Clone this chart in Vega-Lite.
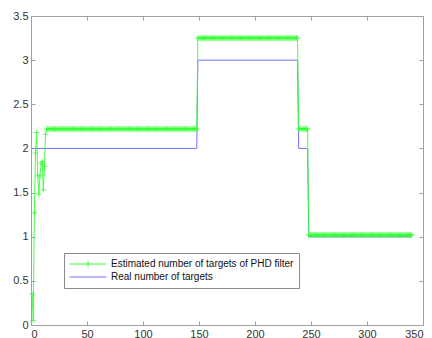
{
"$schema":"https://vega.github.io/schema/vega-lite/v6.json",
"autosize":{"type":"none"},
"padding":{"left":31,"top":16,"right":9,"bottom":13},
"width":392,"height":309,
"background":"white",
"config":{"view":{"stroke":"#a0a0a0","strokeWidth":1},
"axis":{"domain":false,"grid":false,"tickColor":"#a0a0a0","tickSize":-4,"labelFont":"Liberation Sans","labelFontSize":11,"labelColor":"#333333","labelPadding":7,"title":null}},
"datasets":{
"est":[
{"k":1,"n":0.35},{"k":2,"n":0.05},{"k":3,"n":1.27},{"k":4,"n":1.95},{"k":5,"n":2.18},{"k":6,"n":1.69},{"k":7,"n":1.48},{"k":8,"n":1.69},{"k":9,"n":1.83},{"k":10,"n":1.85},
{"k":11,"n":1.53},{"k":12,"n":1.8},{"k":13,"n":2.16},{"k":14,"n":2.22},{"k":15,"n":2.22},{"k":16,"n":2.22},{"k":17,"n":2.22},{"k":18,"n":2.22},{"k":19,"n":2.22},{"k":20,"n":2.22},
{"k":21,"n":2.22},{"k":22,"n":2.22},{"k":23,"n":2.22},{"k":24,"n":2.22},{"k":25,"n":2.22},{"k":26,"n":2.22},{"k":27,"n":2.22},{"k":28,"n":2.22},{"k":29,"n":2.22},{"k":30,"n":2.22},
{"k":31,"n":2.22},{"k":32,"n":2.22},{"k":33,"n":2.22},{"k":34,"n":2.22},{"k":35,"n":2.22},{"k":36,"n":2.22},{"k":37,"n":2.22},{"k":38,"n":2.22},{"k":39,"n":2.22},{"k":40,"n":2.22},
{"k":41,"n":2.22},{"k":42,"n":2.22},{"k":43,"n":2.22},{"k":44,"n":2.22},{"k":45,"n":2.22},{"k":46,"n":2.22},{"k":47,"n":2.22},{"k":48,"n":2.22},{"k":49,"n":2.22},{"k":50,"n":2.22},
{"k":51,"n":2.22},{"k":52,"n":2.22},{"k":53,"n":2.22},{"k":54,"n":2.22},{"k":55,"n":2.22},{"k":56,"n":2.22},{"k":57,"n":2.22},{"k":58,"n":2.22},{"k":59,"n":2.22},{"k":60,"n":2.22},
{"k":61,"n":2.22},{"k":62,"n":2.22},{"k":63,"n":2.22},{"k":64,"n":2.22},{"k":65,"n":2.22},{"k":66,"n":2.22},{"k":67,"n":2.22},{"k":68,"n":2.22},{"k":69,"n":2.22},{"k":70,"n":2.22},
{"k":71,"n":2.22},{"k":72,"n":2.22},{"k":73,"n":2.22},{"k":74,"n":2.22},{"k":75,"n":2.22},{"k":76,"n":2.22},{"k":77,"n":2.22},{"k":78,"n":2.22},{"k":79,"n":2.22},{"k":80,"n":2.22},
{"k":81,"n":2.22},{"k":82,"n":2.22},{"k":83,"n":2.22},{"k":84,"n":2.22},{"k":85,"n":2.22},{"k":86,"n":2.22},{"k":87,"n":2.22},{"k":88,"n":2.22},{"k":89,"n":2.22},{"k":90,"n":2.22},
{"k":91,"n":2.22},{"k":92,"n":2.22},{"k":93,"n":2.22},{"k":94,"n":2.22},{"k":95,"n":2.22},{"k":96,"n":2.22},{"k":97,"n":2.22},{"k":98,"n":2.22},{"k":99,"n":2.22},{"k":100,"n":2.22},
{"k":101,"n":2.22},{"k":102,"n":2.22},{"k":103,"n":2.22},{"k":104,"n":2.22},{"k":105,"n":2.22},{"k":106,"n":2.22},{"k":107,"n":2.22},{"k":108,"n":2.22},{"k":109,"n":2.22},{"k":110,"n":2.22},
{"k":111,"n":2.22},{"k":112,"n":2.22},{"k":113,"n":2.22},{"k":114,"n":2.22},{"k":115,"n":2.22},{"k":116,"n":2.22},{"k":117,"n":2.22},{"k":118,"n":2.22},{"k":119,"n":2.22},{"k":120,"n":2.22},
{"k":121,"n":2.22},{"k":122,"n":2.22},{"k":123,"n":2.22},{"k":124,"n":2.22},{"k":125,"n":2.22},{"k":126,"n":2.22},{"k":127,"n":2.22},{"k":128,"n":2.22},{"k":129,"n":2.22},{"k":130,"n":2.22},
{"k":131,"n":2.22},{"k":132,"n":2.22},{"k":133,"n":2.22},{"k":134,"n":2.22},{"k":135,"n":2.22},{"k":136,"n":2.22},{"k":137,"n":2.22},{"k":138,"n":2.22},{"k":139,"n":2.22},{"k":140,"n":2.22},
{"k":141,"n":2.22},{"k":142,"n":2.22},{"k":143,"n":2.22},{"k":144,"n":2.22},{"k":145,"n":2.22},{"k":146,"n":2.22},{"k":147,"n":2.22},{"k":148,"n":2.22},{"k":149,"n":3.25},{"k":150,"n":3.25},
{"k":151,"n":3.25},{"k":152,"n":3.25},{"k":153,"n":3.25},{"k":154,"n":3.25},{"k":155,"n":3.25},{"k":156,"n":3.25},{"k":157,"n":3.25},{"k":158,"n":3.25},{"k":159,"n":3.25},{"k":160,"n":3.25},
{"k":161,"n":3.25},{"k":162,"n":3.25},{"k":163,"n":3.25},{"k":164,"n":3.25},{"k":165,"n":3.25},{"k":166,"n":3.25},{"k":167,"n":3.25},{"k":168,"n":3.25},{"k":169,"n":3.25},{"k":170,"n":3.25},
{"k":171,"n":3.25},{"k":172,"n":3.25},{"k":173,"n":3.25},{"k":174,"n":3.25},{"k":175,"n":3.25},{"k":176,"n":3.25},{"k":177,"n":3.25},{"k":178,"n":3.25},{"k":179,"n":3.25},{"k":180,"n":3.25},
{"k":181,"n":3.25},{"k":182,"n":3.25},{"k":183,"n":3.25},{"k":184,"n":3.25},{"k":185,"n":3.25},{"k":186,"n":3.25},{"k":187,"n":3.25},{"k":188,"n":3.25},{"k":189,"n":3.25},{"k":190,"n":3.25},
{"k":191,"n":3.25},{"k":192,"n":3.25},{"k":193,"n":3.25},{"k":194,"n":3.25},{"k":195,"n":3.25},{"k":196,"n":3.25},{"k":197,"n":3.25},{"k":198,"n":3.25},{"k":199,"n":3.25},{"k":200,"n":3.25},
{"k":201,"n":3.25},{"k":202,"n":3.25},{"k":203,"n":3.25},{"k":204,"n":3.25},{"k":205,"n":3.25},{"k":206,"n":3.25},{"k":207,"n":3.25},{"k":208,"n":3.25},{"k":209,"n":3.25},{"k":210,"n":3.25},
{"k":211,"n":3.25},{"k":212,"n":3.25},{"k":213,"n":3.25},{"k":214,"n":3.25},{"k":215,"n":3.25},{"k":216,"n":3.25},{"k":217,"n":3.25},{"k":218,"n":3.25},{"k":219,"n":3.25},{"k":220,"n":3.25},
{"k":221,"n":3.25},{"k":222,"n":3.25},{"k":223,"n":3.25},{"k":224,"n":3.25},{"k":225,"n":3.25},{"k":226,"n":3.25},{"k":227,"n":3.25},{"k":228,"n":3.25},{"k":229,"n":3.25},{"k":230,"n":3.25},
{"k":231,"n":3.25},{"k":232,"n":3.25},{"k":233,"n":3.25},{"k":234,"n":3.25},{"k":235,"n":3.25},{"k":236,"n":3.25},{"k":237,"n":3.25},{"k":238,"n":3.25},{"k":239,"n":2.22},{"k":240,"n":2.22},
{"k":241,"n":2.22},{"k":242,"n":2.22},{"k":243,"n":2.22},{"k":244,"n":2.22},{"k":245,"n":2.22},{"k":246,"n":2.22},{"k":247,"n":2.22},{"k":248,"n":1.02},{"k":249,"n":1.02},{"k":250,"n":1.02},
{"k":251,"n":1.02},{"k":252,"n":1.02},{"k":253,"n":1.02},{"k":254,"n":1.02},{"k":255,"n":1.02},{"k":256,"n":1.02},{"k":257,"n":1.02},{"k":258,"n":1.02},{"k":259,"n":1.02},{"k":260,"n":1.02},
{"k":261,"n":1.02},{"k":262,"n":1.02},{"k":263,"n":1.02},{"k":264,"n":1.02},{"k":265,"n":1.02},{"k":266,"n":1.02},{"k":267,"n":1.02},{"k":268,"n":1.02},{"k":269,"n":1.02},{"k":270,"n":1.02},
{"k":271,"n":1.02},{"k":272,"n":1.02},{"k":273,"n":1.02},{"k":274,"n":1.02},{"k":275,"n":1.02},{"k":276,"n":1.02},{"k":277,"n":1.02},{"k":278,"n":1.02},{"k":279,"n":1.02},{"k":280,"n":1.02},
{"k":281,"n":1.02},{"k":282,"n":1.02},{"k":283,"n":1.02},{"k":284,"n":1.02},{"k":285,"n":1.02},{"k":286,"n":1.02},{"k":287,"n":1.02},{"k":288,"n":1.02},{"k":289,"n":1.02},{"k":290,"n":1.02},
{"k":291,"n":1.02},{"k":292,"n":1.02},{"k":293,"n":1.02},{"k":294,"n":1.02},{"k":295,"n":1.02},{"k":296,"n":1.02},{"k":297,"n":1.02},{"k":298,"n":1.02},{"k":299,"n":1.02},{"k":300,"n":1.02},
{"k":301,"n":1.02},{"k":302,"n":1.02},{"k":303,"n":1.02},{"k":304,"n":1.02},{"k":305,"n":1.02},{"k":306,"n":1.02},{"k":307,"n":1.02},{"k":308,"n":1.02},{"k":309,"n":1.02},{"k":310,"n":1.02},
{"k":311,"n":1.02},{"k":312,"n":1.02},{"k":313,"n":1.02},{"k":314,"n":1.02},{"k":315,"n":1.02},{"k":316,"n":1.02},{"k":317,"n":1.02},{"k":318,"n":1.02},{"k":319,"n":1.02},{"k":320,"n":1.02},
{"k":321,"n":1.02},{"k":322,"n":1.02},{"k":323,"n":1.02},{"k":324,"n":1.02},{"k":325,"n":1.02},{"k":326,"n":1.02},{"k":327,"n":1.02},{"k":328,"n":1.02},{"k":329,"n":1.02},{"k":330,"n":1.02},
{"k":331,"n":1.02},{"k":332,"n":1.02},{"k":333,"n":1.02},{"k":334,"n":1.02},{"k":335,"n":1.02},{"k":336,"n":1.02},{"k":337,"n":1.02},{"k":338,"n":1.02},{"k":339,"n":1.02},{"k":340,"n":1.02}
],
"real":[
{"k":1,"n":2},{"k":148,"n":2},{"k":149,"n":3},{"k":238,"n":3},{"k":239,"n":2},{"k":247,"n":2},{"k":248,"n":1},{"k":340,"n":1}
]},
"layer":[
{"data":{"name":"real"},"mark":{"type":"line","strokeWidth":1},
"encoding":{
"x":{"field":"k","type":"quantitative","scale":{"domain":[0,350],"nice":false},"axis":{"orient":"bottom","values":[0,50,100,150,200,250,300,350]}},
"y":{"field":"n","type":"quantitative","scale":{"domain":[0,3.5],"nice":false,"zero":false},"axis":{"orient":"left","values":[0,0.5,1,1.5,2,2.5,3,3.5],"format":"~g"}},
"color":{"datum":"Real number of targets","type":"nominal",
"scale":{"domain":["Estimated number of targets of PHD filter","Real number of targets"],"range":["#33ff33","#7373ff"]},
"legend":{"orient":"none","legendX":33,"legendY":237,"title":null,"strokeColor":"#8a8a8a","fillColor":"white","padding":5,
"symbolType":"M-1,0H1","symbolSize":1369,"symbolStrokeWidth":1,"clipHeight":12,"rowPadding":1,
"labelFont":"Liberation Sans","labelFontSize":10,"labelColor":"#111111","labelOffset":4,"labelLimit":400,
"encode":{"symbols":{"update":{"shape":{"signal":"datum.value == 'Real number of targets' ? 'M-1,0H1' : 'M-1,0H1M0,-0.16V0.16'"}}}}}}}},
{"data":{"name":"est"},"mark":{"type":"line","strokeWidth":0.9},
"encoding":{
"x":{"field":"k","type":"quantitative","axis":{"orient":"top","labels":false,"values":[0,50,100,150,200,250,300,350]}},
"y":{"field":"n","type":"quantitative","axis":{"orient":"right","labels":false,"values":[0,0.5,1,1.5,2,2.5,3,3.5]}},
"color":{"datum":"Estimated number of targets of PHD filter","type":"nominal"}}},
{"data":{"name":"est"},"mark":{"type":"point","shape":"M-1,0H1M0,-1V1","size":30,"filled":false,"stroke":"#33ff33","strokeWidth":0.9,"opacity":0.85},
"encoding":{
"x":{"field":"k","type":"quantitative","axis":null},
"y":{"field":"n","type":"quantitative","axis":null}}}
],
"resolve":{"axis":{"x":"independent","y":"independent"}}
}
